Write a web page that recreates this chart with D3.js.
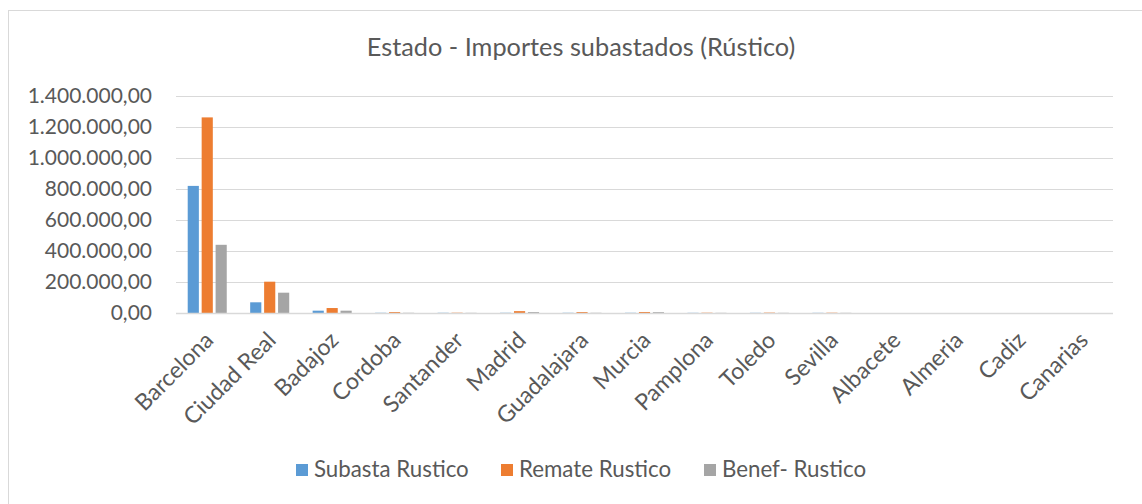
<!DOCTYPE html>
<html><head><meta charset="utf-8">
<script src="https://cdn.jsdelivr.net/npm/d3@7"></script>
<style>
html,body{margin:0;padding:0;background:#fff;}
svg{display:block;font-family:Lato, "Open Sans", sans-serif;}
</style></head>
<body>
<script>
const categories = ["Barcelona","Ciudad Real","Badajoz","Cordoba","Santander","Madrid","Guadalajara","Murcia","Pamplona","Toledo","Sevilla","Albacete","Almeria","Cadiz","Canarias"];
const seriesNames = ["Subasta Rustico","Remate Rustico","Benef- Rustico"];
const subasta = [820000, 69000, 15000, 1500, 1500, 1500, 1500, 1500, 1200, 1200, 1200, 0, 0, 0, 0];
const remate  = [1262000, 202000, 32000, 6000, 2000, 12000, 6000, 6500, 2000, 2500, 2000, 0, 0, 0, 0];
const benef   = [440000, 131000, 15000, 1500, 1200, 6000, 1500, 5500, 1200, 1200, 1200, 0, 0, 0, 0];
const yTicks = [0, 200000, 400000, 600000, 800000, 1000000, 1200000, 1400000];
const colors = ["#5b9bd5", "#ed7d31", "#a5a5a5"];
const title = "Estado - Importes subastados (Rústico)";

(function(){
const W = 1142, H = 504;
const svg = d3.select("body").append("svg").attr("width", W).attr("height", H);

svg.append("rect").attr("x", 8.5).attr("y", 10.5).attr("width", 1160).attr("height", 520)
  .attr("fill", "#fff").attr("stroke", "#d9d9d9").attr("stroke-width", 1);

const pL = 176, pR = 1113, pT = 96, pB = 313;
const y = d3.scaleLinear().domain([0, 1400000]).range([pB, pT]);
const x0 = d3.scaleBand().domain(categories).range([pL, pR]).paddingInner(0.375).paddingOuter(0.1875);
const x1 = d3.scaleBand().domain([0,1,2]).range([0, x0.bandwidth()]).paddingInner(0.2);

const loc = d3.formatLocale({decimal: ",", thousands: ".", grouping: [3], currency: ["", "€"]});
const fmt = loc.format(",.2f");

svg.append("g").selectAll("line").data(yTicks.filter(d => d > 0)).join("line")
  .attr("x1", pL).attr("x2", pR)
  .attr("y1", d => Math.round(y(d)) + 0.5).attr("y2", d => Math.round(y(d)) + 0.5)
  .attr("stroke", "#d9d9d9").attr("stroke-width", 1);

const yAxis = d3.axisLeft(y).tickValues(yTicks).tickFormat(fmt).tickSize(0).tickPadding(24);
const gy = svg.append("g").attr("transform", `translate(${pL},0)`).call(yAxis);
gy.select(".domain").remove();
gy.selectAll("text").attr("fill", "#595959").style("font-size", "21px").style("font-family", "Lato");

const series = [subasta, remate, benef];
const g = svg.append("g");
categories.forEach((c, i) => {
  series.forEach((s, k) => {
    g.append("rect")
      .attr("x", x0(c) + x1(k))
      .attr("width", x1.bandwidth())
      .attr("y", y(s[i]))
      .attr("height", pB - y(s[i]))
      .attr("fill", colors[k]);
  });
});

svg.append("line").attr("x1", pL).attr("x2", pR).attr("y1", pB + 0.5).attr("y2", pB + 0.5)
  .attr("stroke", "#d9d9d9").attr("stroke-width", 1.5);

const xAxis = d3.axisBottom(x0).tickSize(0);
const gx = svg.append("g").attr("transform", `translate(0,${pB})`).call(xAxis);
gx.select(".domain").remove();
gx.selectAll("text")
  .attr("fill", "#595959").style("font-size", "23px").style("font-family", "Lato")
  .attr("text-anchor", "end")
  .attr("y", 0).attr("dy", "0.72em")
  .attr("transform", "translate(-4,17) rotate(-45)");

svg.append("text").attr("x", 581).attr("y", 56).attr("text-anchor", "middle")
  .attr("fill", "#595959").style("font-size", "25.3px").text(title);

const legendX = [296, 501, 704];
const lg = svg.append("g");
seriesNames.forEach((n, k) => {
  lg.append("rect").attr("x", legendX[k]).attr("y", 464).attr("width", 12).attr("height", 12).attr("fill", colors[k]);
  lg.append("text").attr("x", legendX[k] + 18).attr("y", 477).attr("fill", "#595959")
    .style("font-size", "22.3px").text(n);
});
})();
</script>
</body></html>
